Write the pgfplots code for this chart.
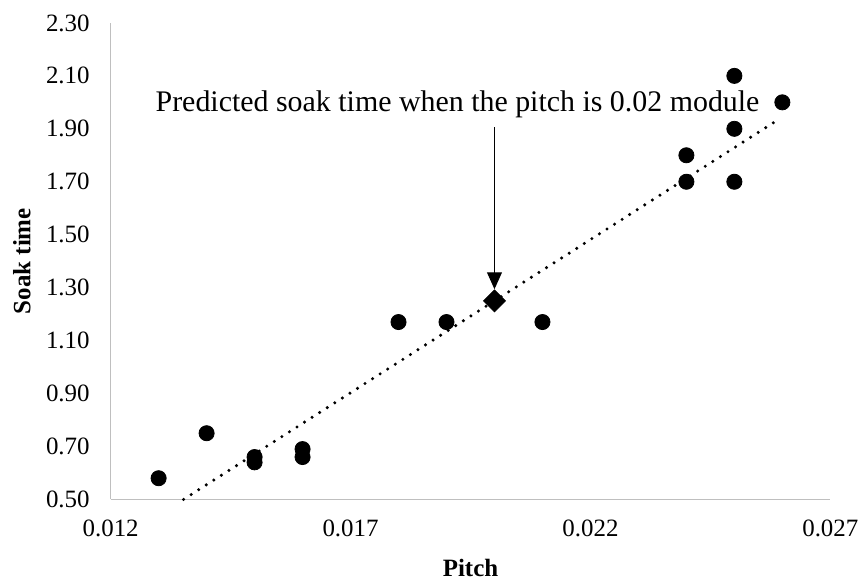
\documentclass[border=0pt]{standalone}
\usepackage{fontspec}
\setmainfont{Liberation Serif}
\usepackage{pgfplots}
\pgfplotsset{compat=1.18}
\usetikzlibrary{arrows.meta}
\begin{document}
\begin{tikzpicture}
\begin{axis}[
  scale only axis, width=361pt, height=239pt,
  xmin=0.012, xmax=0.027, ymin=0.5, ymax=2.3,
  scaled x ticks=false, scaled y ticks=false,
  xtick={0.012,0.017,0.022,0.027},
  xticklabels={0.012,0.017,0.022,0.027},
  ytick={0.5,0.7,0.9,1.1,1.3,1.5,1.7,1.9,2.1,2.3},
  yticklabels={0.50,0.70,0.90,1.10,1.30,1.50,1.70,1.90,2.10,2.30},
  axis x line*=bottom, axis y line*=left,
  axis line style={draw=gray!50, line width=0.75pt, -},
  major tick length=0pt,
  tick label style={font=\fontsize{12.5}{14}\selectfont},
  xticklabel style={yshift=-7pt},
  yticklabel style={xshift=-7pt},
  xlabel={Pitch}, ylabel={Soak time},
  every axis x label/.style={at={(rel axis cs:0.5,0)}, yshift=-34.5pt, anchor=center, font=\fontsize{12.5}{14}\selectfont\bfseries},
  every axis y label/.style={at={(rel axis cs:0,0.5)}, xshift=-44.5pt, rotate=90, anchor=center, font=\fontsize{12.5}{14}\selectfont\bfseries},
  clip=false,
]
\path ([xshift=-55.5pt,yshift=-40.5pt]rel axis cs:0,0) rectangle ([xshift=16pt,yshift=11.5pt]rel axis cs:1,1);
\addplot[black, line width=1.7pt, dash pattern=on 0pt off 4.5pt, line cap=round] coordinates {(0.01352,0.50) (0.0259,1.933)};
\addplot[only marks, mark=*, mark size=3.8pt, black] coordinates {
(0.013,0.58) (0.014,0.75) (0.015,0.66) (0.015,0.64) (0.016,0.69) (0.016,0.66)
(0.018,1.17) (0.019,1.17) (0.021,1.17) (0.024,1.80) (0.024,1.70)
(0.025,2.10) (0.025,1.90) (0.025,1.70) (0.026,2.00)};
\addplot[only marks, mark=square*, mark size=3.9pt, mark options={rotate=45}, black] coordinates {(0.020,1.25)};
\draw[-{Triangle[length=8.5pt,width=7.5pt]}, line width=0.5pt] (axis cs:0.020,1.905) -- (axis cs:0.020,1.294);
\node[anchor=base west, font=\fontsize{15}{18}\selectfont, inner sep=0pt] at (axis cs:0.01293,1.965) {Predicted soak time when the pitch is 0.02 module};
\end{axis}
\end{tikzpicture}
\end{document}
